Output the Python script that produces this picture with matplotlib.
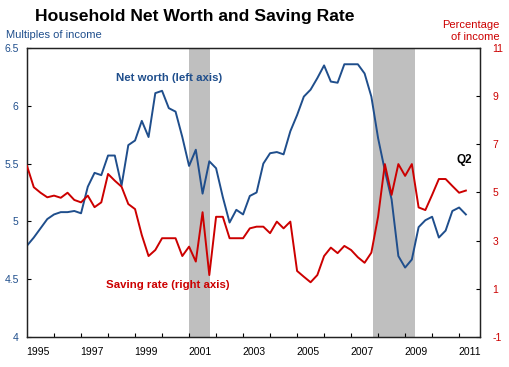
import numpy as np
import matplotlib
matplotlib.use("Agg")
import matplotlib.pyplot as plt

plt.rcParams["font.family"] = ["Liberation Sans", "DejaVu Sans"]

# Quarterly, 1995Q1 .. 2011Q2
start_year = 1995
net_worth = [
    4.79, 4.86, 4.94, 5.02, 5.06, 5.08, 5.08, 5.09, 5.07, 5.30, 5.42, 5.40,
    5.57, 5.57, 5.31, 5.66, 5.70, 5.87, 5.73, 6.11, 6.13, 5.98, 5.95, 5.73,
    5.48, 5.62, 5.24, 5.52, 5.46, 5.21, 4.99, 5.10, 5.06, 5.22, 5.25, 5.50,
    5.59, 5.60, 5.58, 5.78, 5.92, 6.08, 6.14, 6.24, 6.35, 6.21, 6.20, 6.36,
    6.36, 6.36, 6.28, 6.08, 5.72, 5.44, 5.19, 4.70, 4.60, 4.67, 4.95, 5.01,
    5.04, 4.86, 4.92, 5.09, 5.12, 5.06,
]
saving_rate = [
    6.10, 5.22, 4.99, 4.80, 4.87, 4.78, 4.99, 4.69, 4.59, 4.87, 4.39, 4.59,
    5.77, 5.49, 5.24, 4.52, 4.31, 3.23, 2.36, 2.61, 3.10, 3.10, 3.10, 2.36,
    2.75, 2.13, 4.18, 1.57, 3.99, 3.99, 3.10, 3.10, 3.10, 3.51, 3.58, 3.58,
    3.31, 3.79, 3.51, 3.79, 1.74, 1.50, 1.27, 1.57, 2.36, 2.71, 2.48, 2.78,
    2.61, 2.31, 2.08, 2.50, 4.00, 6.18, 4.90, 6.18, 5.69, 6.18, 4.38, 4.27,
    4.90, 5.56, 5.56, 5.27, 4.99, 5.08,
]
recessions = [(2001.0, 2001.78), (2007.81, 2009.37)]
year_labels = list(range(1995, 2012, 2))
left_ticks = [4, 4.5, 5, 5.5, 6, 6.5]
right_ticks = [-1, 1, 3, 5, 7, 9, 11]

blue = "#1F4E8C"
red = "#CC0000"

t = start_year + np.arange(len(net_worth)) / 4.0

fig = plt.figure(figsize=(5.10, 3.67), dpi=100)
ax = fig.add_axes([0.053, 0.082, 0.888, 0.787])
ax2 = ax.twinx()

for r0, r1 in recessions:
    ax.axvspan(r0, r1, color="#BFBFBF", lw=0, zorder=0)

ax.plot(t, net_worth, color=blue, lw=1.4, zorder=3)
ax2.plot(t, saving_rate, color=red, lw=1.4, zorder=3)

ax.set_xlim(1995.0, 2011.77)
ax.set_ylim(4, 6.5)
ax2.set_ylim(-1, 11)

ax.set_yticks(left_ticks)
ax.set_yticklabels([f"{v:g}" for v in left_ticks])
ax2.set_yticks(right_ticks)
ax2.set_yticklabels([str(v) for v in right_ticks])

# year tick marks, labels sit between them
ax.set_xticks(range(1996, 2012))
ax.set_xticklabels([])
ax.set_xticks([y + 0.4 for y in year_labels], minor=True)
ax.set_xticklabels([str(y) for y in year_labels], minor=True)

ax.tick_params(axis="x", which="major", direction="in", length=3, width=0.8)
ax.tick_params(axis="x", which="minor", length=0, pad=7, labelsize=7.5)
ax.tick_params(axis="y", direction="in", length=3, width=0.8, pad=6,
               labelsize=7.5, labelcolor=blue)
ax2.tick_params(axis="y", direction="in", length=3, width=0.8, pad=9,
                labelsize=7.5, labelcolor=red)

for a in (ax, ax2):
    for s in a.spines.values():
        s.set_linewidth(0.9)
        s.set_color("#222222")

fig.text(0.069, 0.956, "Household Net Worth and Saving Rate", fontsize=12.6,
         fontweight="bold", va="center", ha="left")
fig.text(0.012, 0.905, "Multiples of income", fontsize=8, color=blue,
         va="center", ha="left")
fig.text(0.98, 0.915, "Percentage\nof income", fontsize=8, color=red,
         va="center", ha="right", multialignment="right", linespacing=1.2)

ax.text(2000.28, 6.24, "Net worth (left axis)", fontsize=8.2, color=blue,
        fontweight="bold", va="center", ha="center")
ax2.text(2000.2, 1.16, "Saving rate (right axis)", fontsize=8.2, color=red,
         fontweight="bold", va="center", ha="center")
ax2.text(2011.21, 6.35, "Q2", fontsize=8.5, fontweight="bold", va="center",
         ha="center")

fig.savefig("out.png", dpi=100)
